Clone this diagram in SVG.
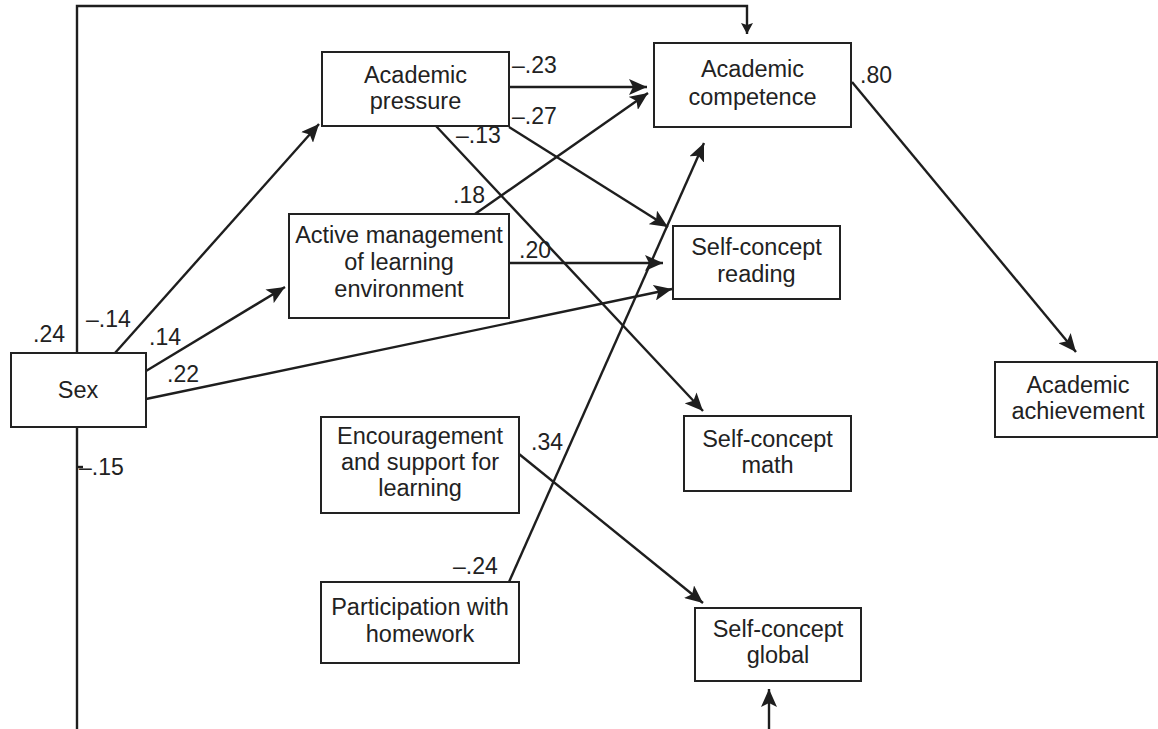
<svg xmlns="http://www.w3.org/2000/svg" width="1158" height="729" viewBox="0 0 1158 729">
<defs>
<style>
.box{fill:#fff;stroke:#222;stroke-width:2}
.t{font-family:"Liberation Sans",Arial,Helvetica,sans-serif;font-size:23.5px;fill:#222;text-anchor:middle}
.n{font-family:"Liberation Sans",Arial,Helvetica,sans-serif;font-size:23px;fill:#222}
.c{fill:none;stroke:#1e1e1e;stroke-width:2.4}
.a{marker-end:url(#ah)}
</style>
<marker id="ah" markerUnits="userSpaceOnUse" markerWidth="20" markerHeight="16" refX="18" refY="8" orient="auto">
<path d="M0,0 L18,8 L0,16 L4,8 Z" fill="#1e1e1e"/>
</marker>
<marker id="ahs" markerUnits="userSpaceOnUse" markerWidth="12" markerHeight="12" refX="11" refY="6" orient="auto">
<path d="M0,0 L11,6 L0,12 L2,6 Z" fill="#1e1e1e"/>
</marker>
</defs>
<rect width="1158" height="729" fill="#fff"/>

<g id="connectors">
<polyline class="c" points="77,353 77,6 747,6 747,34" marker-end="url(#ahs)"/>
<line class="c" x1="77" y1="427" x2="77" y2="729"/>
<line class="c" x1="77" y1="467" x2="83" y2="467"/>
<line class="c" x1="769" y1="729" x2="769" y2="689" marker-end="url(#ah)"/>
<line class="c a" x1="115" y1="353" x2="319" y2="124"/>
<line class="c a" x1="146" y1="371" x2="285" y2="287"/>
<line class="c a" x1="146" y1="399" x2="672" y2="289"/>
<line class="c a" x1="509" y1="87" x2="647" y2="87"/>
<line class="c a" x1="509" y1="127" x2="668" y2="227"/>
<line class="c a" x1="436" y1="126" x2="703" y2="411"/>
<line class="c a" x1="475" y1="214" x2="648" y2="93"/>
<line class="c a" x1="509" y1="263" x2="663" y2="263"/>
<line class="c a" x1="509" y1="582" x2="704" y2="143"/>
<line class="c a" x1="519" y1="454" x2="703" y2="603"/>
<line class="c a" x1="852" y1="82" x2="1076" y2="352"/>
</g>

<g id="labels">
<text class="n" x="33" y="342">.24</text>
<text class="n" x="86" y="327">–.14</text>
<text class="n" x="149" y="345">.14</text>
<text class="n" x="167" y="382">.22</text>
<text class="n" x="79" y="475">–.15</text>
<text class="n" x="512" y="73">–.23</text>
<text class="n" x="512" y="124">–.27</text>
<text class="n" x="456" y="143">–.13</text>
<text class="n" x="453" y="203">.18</text>
<text class="n" x="519" y="258">.20</text>
<text class="n" x="860" y="83">.80</text>
<text class="n" x="531" y="450">.34</text>
<text class="n" x="453" y="574">–.24</text>
</g>

<g id="sex">
<rect class="box" x="11" y="353" width="135" height="74"/>
<text class="t" x="78" y="398">Sex</text>
</g>
<g id="academic-pressure">
<rect class="box" x="322" y="52" width="187" height="74"/>
<text class="t" x="415.5" y="83">Academic</text>
<text class="t" x="415.5" y="109">pressure</text>
</g>
<g id="active-management">
<rect class="box" x="289" y="214" width="220" height="104"/>
<text class="t" x="399" y="243">Active management</text>
<text class="t" x="399" y="270">of learning</text>
<text class="t" x="399" y="297">environment</text>
</g>
<g id="encouragement">
<rect class="box" x="321" y="417" width="198" height="96"/>
<text class="t" x="420" y="444">Encouragement</text>
<text class="t" x="420" y="470">and support for</text>
<text class="t" x="420" y="496">learning</text>
</g>
<g id="participation">
<rect class="box" x="321" y="582" width="198" height="81"/>
<text class="t" x="420" y="615">Participation with</text>
<text class="t" x="420" y="642">homework</text>
</g>
<g id="academic-competence">
<rect class="box" x="654" y="43" width="197" height="84"/>
<text class="t" x="752.5" y="77">Academic</text>
<text class="t" x="752.5" y="105">competence</text>
</g>
<g id="self-concept-reading">
<rect class="box" x="673" y="226" width="167" height="73"/>
<text class="t" x="756.5" y="255">Self-concept</text>
<text class="t" x="756.5" y="282">reading</text>
</g>
<g id="self-concept-math">
<rect class="box" x="684" y="416" width="167" height="75"/>
<text class="t" x="767.5" y="447">Self-concept</text>
<text class="t" x="767.5" y="473">math</text>
</g>
<g id="self-concept-global">
<rect class="box" x="695" y="608" width="166" height="73"/>
<text class="t" x="778" y="637">Self-concept</text>
<text class="t" x="778" y="663">global</text>
</g>
<g id="academic-achievement">
<rect class="box" x="995" y="362" width="162" height="75"/>
<text class="t" x="1078" y="393">Academic</text>
<text class="t" x="1078" y="419">achievement</text>
</g>
</svg>
